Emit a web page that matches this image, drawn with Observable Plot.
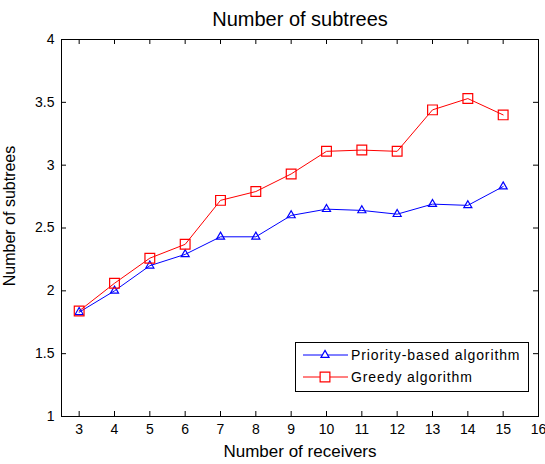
<!DOCTYPE html>
<html>
<head>
<meta charset="utf-8">
<script src="https://cdn.jsdelivr.net/npm/d3@7"></script>
<script src="https://cdn.jsdelivr.net/npm/@observablehq/plot@0.6"></script>
<style>
  html, body { margin: 0; padding: 0; background: white; }
  #wrap { position: relative; width: 545px; height: 464px; font-family: "Liberation Sans", Arial, sans-serif; }
  #legend { position: absolute; left: 0; top: 0; }
</style>
</head>
<body>
<div id="wrap"></div>
<script>
// ---- data ----
const receivers = [3, 4, 5, 6, 7, 8, 9, 10, 11, 12, 13, 14, 15];
const priorityBased = [1.83, 2.00, 2.20, 2.29, 2.43, 2.43, 2.60, 2.65, 2.64, 2.61, 2.69, 2.68, 2.83];
const greedy = [1.84, 2.06, 2.26, 2.37, 2.72, 2.79, 2.93, 3.11, 3.12, 3.11, 3.44, 3.53, 3.40];
const seriesNames = ["Priority-based algorithm", "Greedy algorithm"];
const seriesColors = ["#0000ff", "#ff0000"];
const xTicks = [3, 4, 5, 6, 7, 8, 9, 10, 11, 12, 13, 14, 15, 16];
const yTicks = [1, 1.5, 2, 2.5, 3, 3.5, 4];
const yTickLabels = ["1", "1.5", "2", "2.5", "3", "3.5", "4"];
const titleText = "Number of subtrees";
const xLabel = "Number of receivers";
const yLabel = "Number of subtrees";

// ---- layout ----
const W = 545, H = 464;
const mL = 61, mR = 7, mT = 39, mB = 48;
const fW = W - mL - mR, fH = H - mT - mB;
const tk = 5;
const FONT = '"Liberation Sans", Arial, sans-serif';

const rows = [];
receivers.forEach((x, i) => {
  rows.push({x, y: priorityBased[i], s: seriesNames[0]});
  rows.push({x, y: greedy[i], s: seriesNames[1]});
});
const pRows = rows.filter(d => d.s === seriesNames[0]);
const gRows = rows.filter(d => d.s === seriesNames[1]);

const chart = Plot.plot({
  width: W, height: H,
  marginLeft: mL, marginRight: mR, marginTop: mT, marginBottom: mB,
  style: {fontFamily: FONT, background: "white", color: "#000"},
  x: {domain: [2.5, 16]},
  y: {domain: [1, 4]},
  marks: [
    Plot.frame({stroke: "#000", strokeWidth: 1}),
    Plot.tickX(xTicks, {x: d => d, insetTop: fH - tk, stroke: "#000"}),
    Plot.tickX(xTicks, {x: d => d, insetBottom: fH - tk, stroke: "#000"}),
    Plot.tickY(yTicks, {y: d => d, insetRight: fW - tk, stroke: "#000"}),
    Plot.tickY(yTicks, {y: d => d, insetLeft: fW - tk, stroke: "#000"}),
    Plot.axisX({ticks: xTicks, tickSize: 0, tickPadding: 8, fontSize: 14, label: null, tickFormat: d => String(d)}),
    Plot.axisY({ticks: yTicks, tickSize: 0, tickPadding: 7, fontSize: 14, label: null, tickFormat: (d) => yTickLabels[yTicks.indexOf(d)]}),
    Plot.line(pRows, {x: "x", y: "y", stroke: seriesColors[0], strokeWidth: 1}),
    Plot.line(gRows, {x: "x", y: "y", stroke: seriesColors[1], strokeWidth: 1}),
    Plot.dot(pRows, {x: "x", y: "y", symbol: "triangle", r: 3, stroke: seriesColors[0], fill: "none", strokeWidth: 1.2}),
    Plot.dot(gRows, {x: "x", y: "y", symbol: "square", r: 5.5, stroke: seriesColors[1], fill: "none", strokeWidth: 1.2}),
    Plot.text([titleText], {text: d => d, frameAnchor: "top", lineAnchor: "middle", textAnchor: "middle", dy: -20, fontSize: 20, fill: "#000"}),
    Plot.text([xLabel], {text: d => d, frameAnchor: "bottom", lineAnchor: "middle", textAnchor: "middle", dy: 35, fontSize: 17, fill: "#000"}),
    Plot.text([yLabel], {text: d => d, frameAnchor: "left", lineAnchor: "middle", textAnchor: "middle", rotate: -90, dx: -52, dy: -12, fontSize: 16, fill: "#000"})
  ]
});

const wrap = document.getElementById("wrap");
wrap.appendChild(chart);

// ---- legend overlay ----
const lg = d3.select(wrap).append("svg")
  .attr("id", "legend").attr("width", W).attr("height", H)
  .style("position", "absolute").style("left", "0px").style("top", "0px");
lg.append("rect").attr("x", 295.5).attr("y", 342.5).attr("width", 233).attr("height", 49)
  .attr("fill", "white").attr("stroke", "#000").attr("stroke-width", 1);
const tri = d3.symbol(d3.symbolTriangle, Math.PI * 3 * 3)();
const sq = d3.symbol(d3.symbolSquare, Math.PI * 5.5 * 5.5)();
seriesNames.forEach((name, i) => {
  const yy = 355 + i * 22;
  lg.append("line").attr("x1", 303).attr("x2", 348).attr("y1", yy).attr("y2", yy)
    .attr("stroke", seriesColors[i]).attr("stroke-width", 1);
  lg.append("path").attr("d", i === 0 ? tri : sq).attr("transform", `translate(325,${yy})`)
    .attr("fill", "white").attr("stroke", seriesColors[i]).attr("stroke-width", 1.2);
  lg.append("text").attr("x", 351).attr("y", yy + 5).attr("font-size", 14)
    .attr("letter-spacing", "0.9px")
    .attr("font-family", FONT).attr("fill", "#000").text(name);
});
</script>
</body>
</html>
